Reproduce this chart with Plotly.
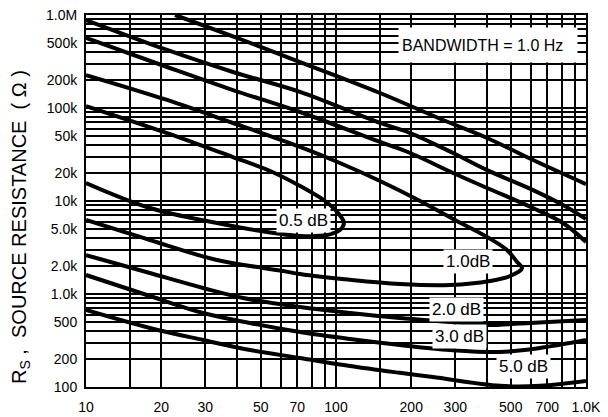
import math
import plotly.graph_objects as go

# ---------------- data ----------------
# frequency in Hz, source resistance in ohms
nf05_f = [10, 21.1, 38.7, 54.5, 71.8, 90.4, 101.9, 107.6, 103.7, 92.0, 71.8, 53.0, 33.4, 18.0, 10]
nf05_r = [1.05e5, 5.38e4, 2.97e4, 2.10e4, 1.45e4, 1.0e4, 7.43e3, 5.80e3, 4.88e3, 4.31e3, 4.21e3, 4.64e3, 5.80e3, 8.41e3, 1.56e4]

nf10_f = [10, 21.1, 38.7, 71.8, 103.7, 150, 217, 294, 402, 483, 530, 555,
          497, 413, 286, 180, 114, 71.8, 61.4, 33.4, 18.0, 10]
nf10_r = [2.26e5, 1.22e5, 6.90e4, 3.81e4, 2.56e4, 1.64e4, 1.0e4, 6.40e3, 4.10e3, 2.97e3, 2.21e3, 1.90e3,
          1.56e3, 1.38e3, 1.25e3, 1.28e3, 1.42e3, 1.64e3, 1.77e3, 2.32e3, 3.81e3, 6.25e3]

nf20_up_f = [10, 21.1, 38.7, 71.8, 150, 198, 294, 402, 614, 809, 1000]
nf20_up_r = [5.66e5, 2.76e5, 1.56e5, 9.06e4, 4.31e4, 3.28e4, 2.00e4, 1.38e4, 8.41e3, 5.80e3, 3.63e3]
nf20_lo_f = [10, 18.0, 29.4, 42.5, 71.8, 113.8, 180, 286, 394, 597, 1000]
nf20_lo_r = [2.62e3, 1.68e3, 1.16e3, 906, 725, 625, 552, 500, 464, 488, 525]

nf30_up_f = [10, 21.1, 38.7, 71.8, 150, 198, 294, 402, 614, 809, 1000]
nf30_up_r = [8.83e5, 4.21e5, 2.44e5, 1.49e5, 6.90e4, 5.38e4, 3.28e4, 2.15e4, 1.31e4, 9.06e3, 6.40e3]
nf30_lo_f = [10, 18.0, 29.4, 45.3, 71.8, 113.8, 180, 286, 453, 655, 1000]
nf30_lo_r = [1.60e3, 952, 625, 488, 390, 328, 283, 250, 238, 263, 320]

nf50_up_f = [22.7, 41.3, 71.8, 150, 268, 402, 614, 1000]
nf50_up_r = [1.0e6, 5.52e5, 3.12e5, 1.45e5, 7.43e4, 4.76e4, 2.76e4, 1.52e4]
nf50_lo_f = [10, 18.0, 29.4, 45.3, 71.8, 113.8, 180, 244, 453, 655, 1000]
nf50_lo_r = [673, 431, 320, 250, 205, 168, 142, 128, 103, 103, 116]

# curve labels
label_text = ["0.5 dB", "1.0dB", "2.0 dB", "3.0 dB", "5.0 dB"]
label_f = [73.8, 337, 302, 313, 560]
label_r = [6.1e3, 2.26e3, 673, 353, 168]

# axis ticks
x_major = [10, 20, 30, 50, 70, 100, 200, 300, 500, 700, 1000]
x_major_text = ["10", "20", "30", "50", "70", "100", "200", "300", "500", "700", "1.0K"]
x_minor = [15, 40, 60, 80, 90, 150, 400, 600, 800, 900]

y_major = [100, 200, 500, 1e3, 2e3, 5e3, 1e4, 2e4, 5e4, 1e5, 2e5, 5e5, 1e6]
y_major_text = ["100", "200", "500", "1.0k", "2.0k", "5.0k", "10k", "20k", "50k",
                "100k", "200k", "500k", "1.0M"]
y_minor = [m * d for d in (100, 1e3, 1e4, 1e5) for m in (3, 4, 6, 7, 8, 9)]

FONT = "Liberation Sans, Arial, Helvetica, sans-serif"

fig = go.Figure()
curves = [
    (nf05_f, nf05_r), (nf10_f, nf10_r),
    (nf20_up_f, nf20_up_r), (nf20_lo_f, nf20_lo_r),
    (nf30_up_f, nf30_up_r), (nf30_lo_f, nf30_lo_r),
    (nf50_up_f, nf50_up_r), (nf50_lo_f, nf50_lo_r),
]
for fx, ry in curves:
    fig.add_trace(go.Scatter(x=fx, y=ry, mode="lines",
                             line=dict(color="black", width=4, shape="spline", smoothing=1.0),
                             hoverinfo="skip"))

for t, fx, ry in zip(label_text, label_f, label_r):
    fig.add_annotation(x=math.log10(fx), y=math.log10(ry), xref="x", yref="y",
                       xanchor="center", yanchor="middle",
                       text=t, showarrow=False, bgcolor="white", borderpad=2,
                       font=dict(family=FONT, size=17, color="black"))

fig.add_annotation(x=0.804, y=0.919, xref="paper", yref="paper",
                   xanchor="center", yanchor="middle",
                   text="BANDWIDTH = 1.0 Hz", showarrow=False, bgcolor="white",
                   width=172, height=28, borderpad=3, align="left",
                   font=dict(family=FONT, size=16, color="black"))

fig.add_annotation(x=0, y=0.43, xref="paper", yref="paper", xshift=-66,
                   xanchor="center", yanchor="middle", textangle=-90,
                   text="R<sub>S</sub> ,  SOURCE RESISTANCE  ( Ω )", showarrow=False,
                   font=dict(family=FONT, size=20, color="black"))

axis_common = dict(
    type="log", showgrid=True, gridcolor="black", gridwidth=1.5,
    showline=True, linecolor="black", linewidth=2, mirror=True,
    ticks="", zeroline=False, tickmode="array", automargin=False,
    tickfont=dict(family=FONT, size=14, color="black"),
)

fig.update_xaxes(**axis_common, range=[1, 3], tickvals=x_major, ticktext=x_major_text,
                 ticklabelstandoff=6,
                 minor=dict(tickmode="array", tickvals=x_minor, showgrid=True,
                            gridcolor="black", gridwidth=1.5, ticks=""))
fig.update_yaxes(**axis_common, range=[2, 6], tickvals=y_major, ticktext=y_major_text,
                 ticklabelstandoff=4,
                 minor=dict(tickmode="array", tickvals=y_minor, showgrid=True,
                            gridcolor="black", gridwidth=1.5, ticks=""))

fig.update_layout(width=608, height=417, margin=dict(l=86, r=22, t=15, b=30),
                  paper_bgcolor="white", plot_bgcolor="white", showlegend=False,
                  font=dict(family=FONT, color="black"))

fig.write_html("out.html", config={"displayModeBar": False},
               post_script="document.body.style.margin='0';document.body.style.overflow='hidden';")
